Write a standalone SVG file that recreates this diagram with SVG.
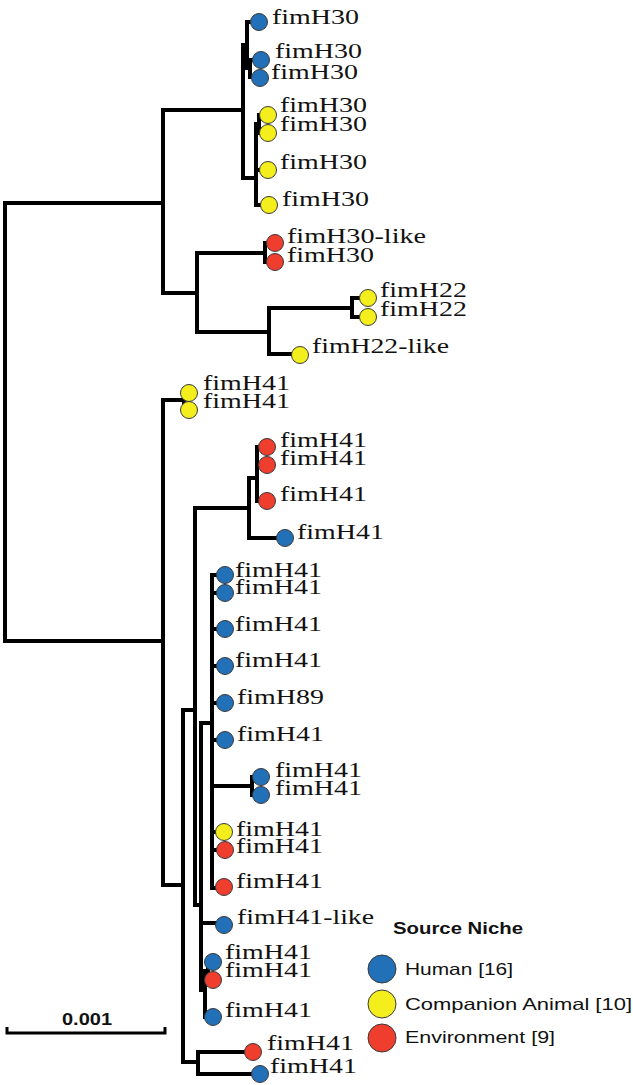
<svg xmlns="http://www.w3.org/2000/svg" width="633" height="1085" viewBox="0 0 633 1085">
<style>
.br{fill:none;stroke:#000;stroke-width:4;stroke-linejoin:miter;stroke-linecap:square}
.lf{stroke:#3a3a3a;stroke-width:1}
.hu{fill:#2170b8}
.ca{fill:#f4ef1c}
.en{fill:#ef3d2e}
.lb{font-family:"Liberation Serif","Times New Roman",serif;font-size:22px;fill:#111}
.lg{font-family:"Liberation Sans",Arial,sans-serif;font-size:16.5px;fill:#111}
.b{font-weight:bold}
</style>
<rect width="633" height="1085" fill="#fff"/>
<g id="connectors">
<path class="br" d="M163 203H5V641H163"/>
<path class="br" d="M243 110H163V293H197"/>
<path class="br" d="M247 45H243V178H256"/>
<path class="br" d="M258 22H247V68H250"/>
<path class="br" d="M258 60H250V77H258"/>
<path class="br" d="M259 124H256V205H268"/>
<path class="br" d="M256 170H268"/>
<path class="br" d="M268 115H259V133H268"/>
<path class="br" d="M265 253H197V332H269"/>
<path class="br" d="M275 243H265V262H275"/>
<path class="br" d="M352 308H269V354H300"/>
<path class="br" d="M368 298H352V317H368"/>
<path class="br" d="M183 400H163V885H183"/>
<path class="br" d="M189 393H184V410H189"/>
<path class="br" d="M195 710H183V1062H198"/>
<path class="br" d="M253 1052H198V1074H260"/>
<path class="br" d="M249 508H195V905H201"/>
<path class="br" d="M257 478H249V538H285"/>
<path class="br" d="M267 447H257V501H267"/>
<path class="br" d="M257 465H267"/>
<path class="br" d="M212 723H201V990H205"/>
<path class="br" d="M225 575H212V888H224"/>
<path class="br" d="M212 593H225M212 629H225M212 666H225M212 703H225M212 740H225M212 832H224M212 850H225"/>
<path class="br" d="M212 786H252"/>
<path class="br" d="M261 777H252V795H261"/>
<path class="br" d="M201 923H224"/>
<path class="br" d="M213 962H208V980H213"/>
<path class="br" d="M205 971H208"/>
<path class="br" d="M205 971V1017H213"/>
</g>
<g id="leaf1"><circle class="lf hu" cx="259" cy="22" r="8.5"/><text class="lb" x="272" y="24" textLength="87" lengthAdjust="spacingAndGlyphs">fimH30</text></g>
<g id="leaf2"><circle class="lf hu" cx="261" cy="60" r="8.5"/><text class="lb" x="275" y="58" textLength="87" lengthAdjust="spacingAndGlyphs">fimH30</text></g>
<g id="leaf3"><circle class="lf hu" cx="260" cy="78" r="8.5"/><text class="lb" x="271" y="79" textLength="87" lengthAdjust="spacingAndGlyphs">fimH30</text></g>
<g id="leaf4"><circle class="lf ca" cx="268" cy="115" r="8.5"/><text class="lb" x="280" y="112" textLength="87" lengthAdjust="spacingAndGlyphs">fimH30</text></g>
<g id="leaf5"><circle class="lf ca" cx="268" cy="133" r="8.5"/><text class="lb" x="280" y="131" textLength="87" lengthAdjust="spacingAndGlyphs">fimH30</text></g>
<g id="leaf6"><circle class="lf ca" cx="268" cy="170" r="8.5"/><text class="lb" x="280" y="169" textLength="87" lengthAdjust="spacingAndGlyphs">fimH30</text></g>
<g id="leaf7"><circle class="lf ca" cx="269" cy="205" r="8.5"/><text class="lb" x="282" y="206" textLength="87" lengthAdjust="spacingAndGlyphs">fimH30</text></g>
<g id="leaf8"><circle class="lf en" cx="275" cy="243" r="8.5"/><text class="lb" x="287" y="243" textLength="139" lengthAdjust="spacingAndGlyphs">fimH30-like</text></g>
<g id="leaf9"><circle class="lf en" cx="275" cy="262" r="8.5"/><text class="lb" x="287" y="262" textLength="87" lengthAdjust="spacingAndGlyphs">fimH30</text></g>
<g id="leaf10"><circle class="lf ca" cx="368" cy="298" r="8.5"/><text class="lb" x="380" y="297" textLength="87" lengthAdjust="spacingAndGlyphs">fimH22</text></g>
<g id="leaf11"><circle class="lf ca" cx="368" cy="317" r="8.5"/><text class="lb" x="380" y="316" textLength="87" lengthAdjust="spacingAndGlyphs">fimH22</text></g>
<g id="leaf12"><circle class="lf ca" cx="300" cy="355" r="8.5"/><text class="lb" x="312" y="353" textLength="137" lengthAdjust="spacingAndGlyphs">fimH22-like</text></g>
<g id="leaf13"><circle class="lf ca" cx="189" cy="393" r="8.5"/><text class="lb" x="203" y="390" textLength="87" lengthAdjust="spacingAndGlyphs">fimH41</text></g>
<g id="leaf14"><circle class="lf ca" cx="189" cy="410" r="8.5"/><text class="lb" x="203" y="408" textLength="87" lengthAdjust="spacingAndGlyphs">fimH41</text></g>
<g id="leaf15"><circle class="lf en" cx="267" cy="447" r="8.5"/><text class="lb" x="280" y="447" textLength="87" lengthAdjust="spacingAndGlyphs">fimH41</text></g>
<g id="leaf16"><circle class="lf en" cx="267" cy="465" r="8.5"/><text class="lb" x="280" y="465" textLength="87" lengthAdjust="spacingAndGlyphs">fimH41</text></g>
<g id="leaf17"><circle class="lf en" cx="267" cy="501" r="8.5"/><text class="lb" x="280" y="501" textLength="87" lengthAdjust="spacingAndGlyphs">fimH41</text></g>
<g id="leaf18"><circle class="lf hu" cx="285" cy="538" r="8.5"/><text class="lb" x="297" y="539" textLength="87" lengthAdjust="spacingAndGlyphs">fimH41</text></g>
<g id="leaf19"><circle class="lf hu" cx="225" cy="575" r="8.5"/><text class="lb" x="235" y="577" textLength="87" lengthAdjust="spacingAndGlyphs">fimH41</text></g>
<g id="leaf20"><circle class="lf hu" cx="225" cy="593" r="8.5"/><text class="lb" x="235" y="594" textLength="87" lengthAdjust="spacingAndGlyphs">fimH41</text></g>
<g id="leaf21"><circle class="lf hu" cx="225" cy="629" r="8.5"/><text class="lb" x="235" y="631" textLength="87" lengthAdjust="spacingAndGlyphs">fimH41</text></g>
<g id="leaf22"><circle class="lf hu" cx="225" cy="666" r="8.5"/><text class="lb" x="235" y="667" textLength="87" lengthAdjust="spacingAndGlyphs">fimH41</text></g>
<g id="leaf23"><circle class="lf hu" cx="225" cy="703" r="8.5"/><text class="lb" x="237" y="704" textLength="87" lengthAdjust="spacingAndGlyphs">fimH89</text></g>
<g id="leaf24"><circle class="lf hu" cx="225" cy="740" r="8.5"/><text class="lb" x="237" y="741" textLength="87" lengthAdjust="spacingAndGlyphs">fimH41</text></g>
<g id="leaf25"><circle class="lf hu" cx="261" cy="777" r="8.5"/><text class="lb" x="275" y="777" textLength="87" lengthAdjust="spacingAndGlyphs">fimH41</text></g>
<g id="leaf26"><circle class="lf hu" cx="261" cy="795" r="8.5"/><text class="lb" x="275" y="795" textLength="87" lengthAdjust="spacingAndGlyphs">fimH41</text></g>
<g id="leaf27"><circle class="lf ca" cx="224" cy="832" r="8.5"/><text class="lb" x="236" y="836" textLength="87" lengthAdjust="spacingAndGlyphs">fimH41</text></g>
<g id="leaf28"><circle class="lf en" cx="225" cy="850" r="8.5"/><text class="lb" x="236" y="853" textLength="87" lengthAdjust="spacingAndGlyphs">fimH41</text></g>
<g id="leaf29"><circle class="lf en" cx="224" cy="887" r="8.5"/><text class="lb" x="236" y="888" textLength="87" lengthAdjust="spacingAndGlyphs">fimH41</text></g>
<g id="leaf30"><circle class="lf hu" cx="224" cy="925" r="8.5"/><text class="lb" x="237" y="924" textLength="137" lengthAdjust="spacingAndGlyphs">fimH41-like</text></g>
<g id="leaf31"><circle class="lf hu" cx="213" cy="962" r="8.5"/><text class="lb" x="225" y="959" textLength="87" lengthAdjust="spacingAndGlyphs">fimH41</text></g>
<g id="leaf32"><circle class="lf en" cx="213" cy="980" r="8.5"/><text class="lb" x="225" y="977" textLength="87" lengthAdjust="spacingAndGlyphs">fimH41</text></g>
<g id="leaf33"><circle class="lf hu" cx="213" cy="1017" r="8.5"/><text class="lb" x="225" y="1017" textLength="87" lengthAdjust="spacingAndGlyphs">fimH41</text></g>
<g id="leaf34"><circle class="lf en" cx="253" cy="1052" r="8.5"/><text class="lb" x="267" y="1050" textLength="87" lengthAdjust="spacingAndGlyphs">fimH41</text></g>
<g id="leaf35"><circle class="lf hu" cx="260" cy="1074" r="8.5"/><text class="lb" x="270" y="1073" textLength="87" lengthAdjust="spacingAndGlyphs">fimH41</text></g>
<g id="legend">
<text class="lg b" x="393" y="934" textLength="130" lengthAdjust="spacingAndGlyphs">Source Niche</text>
<circle class="lf hu" cx="382" cy="969" r="14"/>
<text class="lg" x="405" y="975" textLength="108" lengthAdjust="spacingAndGlyphs">Human [16]</text>
<circle class="lf ca" cx="382" cy="1004" r="14"/>
<text class="lg" x="405" y="1010" textLength="227" lengthAdjust="spacingAndGlyphs">Companion Animal [10]</text>
<circle class="lf en" cx="382" cy="1038" r="14"/>
<text class="lg" x="405" y="1043" textLength="150" lengthAdjust="spacingAndGlyphs">Environment [9]</text>
</g>
<g id="scalebar">
<path d="M7 1027V1033H165V1027" fill="none" stroke="#000" stroke-width="3"/>
<text class="lg b" x="87" y="1025" text-anchor="middle" font-size="17" textLength="50" lengthAdjust="spacingAndGlyphs">0.001</text>
</g>
</svg>
